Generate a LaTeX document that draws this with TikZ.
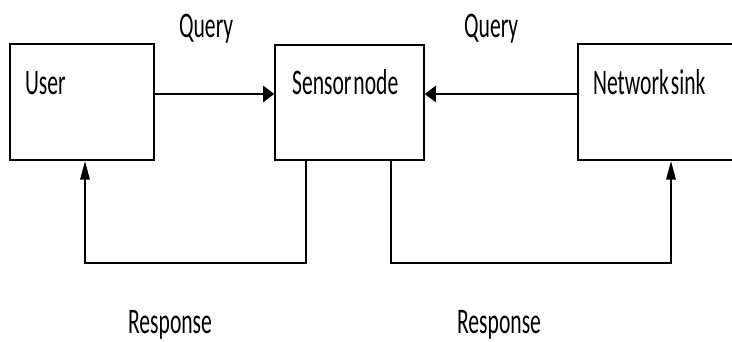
\documentclass[tikz,border=0pt]{standalone}
\usepackage{fontspec}
\setmainfont{Carlito}[WordSpace=0.4]
\usetikzlibrary{arrows.meta,fit}
\begin{document}
\begin{tikzpicture}[y=-1pt,x=1pt]
\useasboundingbox (0,0) rectangle (732,342);
% everything is set on a horizontally condensed canvas
\begin{scope}[transform canvas={xscale=0.6}, x=1.666667pt, y=-1pt,
  box/.style={draw=black, line width=2.3pt, rectangle, inner sep=0pt},
  lbl/.style={inner sep=0pt, anchor=base west, text=black,
              font=\fontsize{36}{40}\selectfont},
  link/.style={draw=black, line width=2.2pt,
               -{Triangle[length=18.5pt,width=16pt]}}]
  % boxes
  \node[box, fit={(10,44) (154,160)}] (user) {};
  \node[box, fit={(275,45) (424,160)}] (sensor) {};
  \node[box, fit={(578,44) (745,160)}] (sink) {};
  % box captions
  \node[lbl] (tuser) at (25,95) {User};
  \node[lbl] (tsensor) at (292,95) {Sensor node};
  \node[lbl] (tsink) at (593,95) {Network sink};
  % query arrows
  \coordinate (q) at (0,94);
  \draw[link] (user.east |- q) -- (sensor.west |- q);
  \draw[link] (sink.west |- q) -- (sensor.east |- q);
  \node[lbl] (q1) at (179,38) {Query};
  \node[lbl] (q2) at (464,38) {Query};
  % response loops
  \coordinate (r1a) at (306,263);
  \coordinate (r1b) at (85,263);
  \coordinate (r2a) at (391,263);
  \coordinate (r2b) at (671,263);
  \draw[link] (sensor.south -| r1a) -- (r1a) -- (r1b) -- (user.south -| r1b);
  \draw[link] (sensor.south -| r2a) -- (r2a) -- (r2b) -- (sink.south -| r2b);
  \node[lbl] (resp1) at (128,334) {Response};
  \node[lbl] (resp2) at (457,334) {Response};
\end{scope}
\end{tikzpicture}
\end{document}
